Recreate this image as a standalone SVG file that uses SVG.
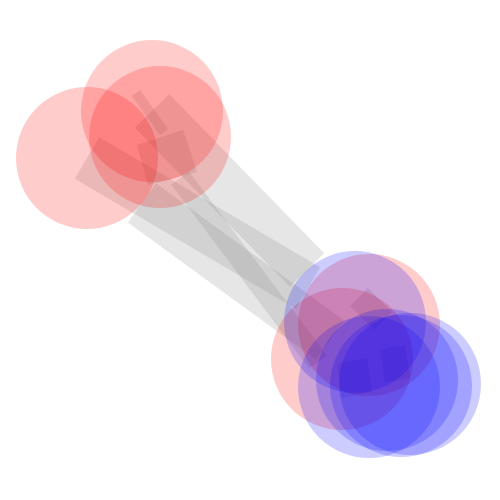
<svg xmlns="http://www.w3.org/2000/svg" width="500" height="500" viewBox="0 0 500 500">
<style>
.e{stroke:#808080;stroke-opacity:0.2;fill:none;stroke-linecap:butt}
.p{fill:#808080;fill-opacity:0.2;stroke:none}
.r{fill:#ff0000;fill-opacity:0.2}
.b{fill:#0000ff;fill-opacity:0.2}
</style>
<rect width="500" height="500" fill="#ffffff"/>
<g id="edges">
<line class="e" x1="152" y1="111" x2="307" y2="270" stroke-width="48"/>
<line class="e" x1="87" y1="158" x2="308" y2="288" stroke-width="48"/>
<line class="e" x1="142" y1="203" x2="330" y2="340" stroke-width="48"/>
<line class="e" x1="180" y1="178" x2="318" y2="362" stroke-width="22"/>
<line class="e" x1="136" y1="93" x2="164" y2="132" stroke-width="10"/>
<polygon class="p" points="137,145 183,130 197,172 148,185"/>
<polygon class="p" points="350,306 368,288 392,312 374,330"/>
<polygon class="p" points="337,364 367,358 372,392 342,398"/>
<polygon class="p" points="380,350 405,345 410,378 385,383"/>
</g>
<g id="n1"><circle class="r" cx="152" cy="111" r="71"/></g>
<g id="n2"><circle class="r" cx="160" cy="137" r="71"/></g>
<g id="n3"><circle class="r" cx="87" cy="158" r="71"/></g>
<g id="n4"><circle class="r" cx="369" cy="325" r="71"/></g>
<g id="n5"><circle class="r" cx="342" cy="359" r="71"/></g>
<g id="n6"><circle class="b" cx="355" cy="322" r="71"/></g>
<g id="n7"><circle class="b" cx="369" cy="387" r="71"/></g>
<g id="n8"><circle class="b" cx="387" cy="380" r="71"/></g>
<g id="n9"><circle class="b" cx="401" cy="386" r="71"/></g>
<g id="n10"><circle class="b" cx="410" cy="384" r="71"/></g>
</svg>
